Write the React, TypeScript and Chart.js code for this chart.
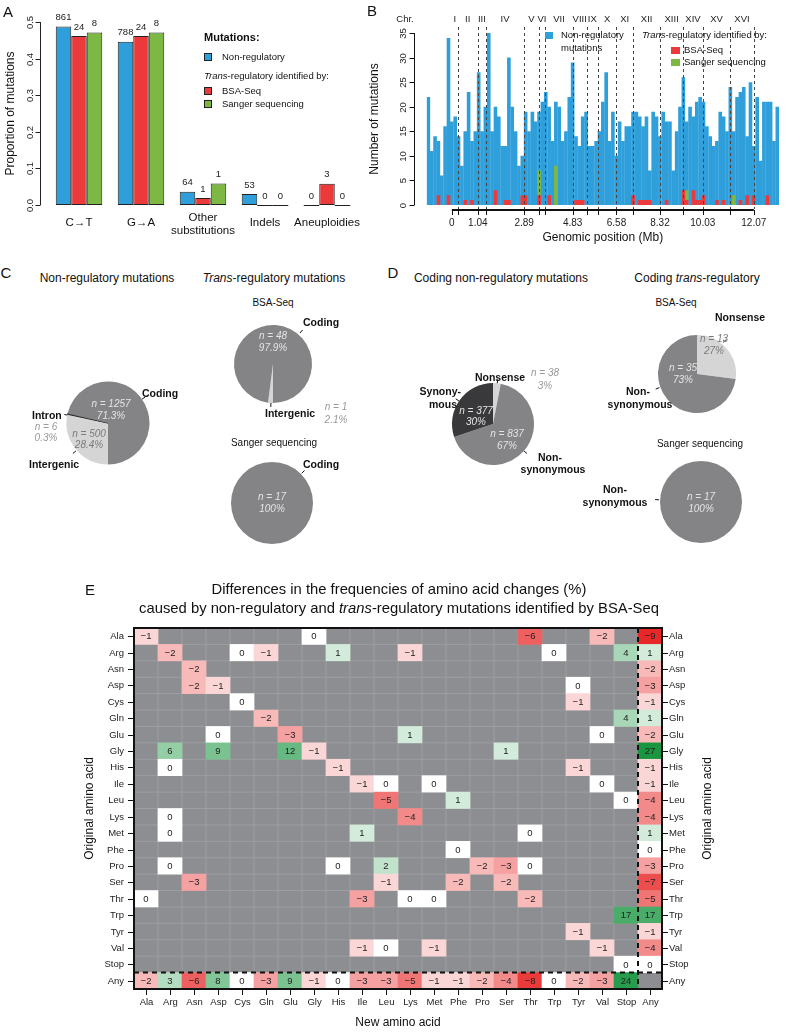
import React, { useEffect, useRef } from 'react';
import { Chart, registerables } from 'chart.js';

Chart.register(...registerables);

const FONT = '"Liberation Sans", Arial, Helvetica, sans-serif';
Chart.defaults.font.family = FONT;

const BLUE = '#2e9fda';
const RED = '#ec3a3a';
const GREEN = '#7cb843';
const PIE_MID = '#848487';
const PIE_LIGHT = '#d5d5d5';
const PIE_DARK = '#39393b';
const HEAT_BG = '#8d8e91';

// ---------------- Panel A data ----------------
const mutationTypes = ['C→T', 'G→A', 'Other substitutions', 'Indels', 'Aneuploidies'];
const nonRegProportion = [0.488, 0.446, 0.036, 0.03, 0];
const bsaProportion = [0.462, 0.462, 0.019, 0, 0.058];
const sangerProportion = [0.471, 0.471, 0.059, 0, 0];
const nonRegCounts = [861, 788, 64, 53, 0];
const bsaCounts = [24, 24, 1, 0, 3];
const sangerCounts = [8, 8, 1, 0, 0];
const proportionTicks = [0, 0.1, 0.2, 0.3, 0.4, 0.5];

// ---------------- Panel B data ----------------
const chromosomes = ['I', 'II', 'III', 'IV', 'V', 'VI', 'VII', 'VIII', 'IX', 'X', 'XI', 'XII', 'XIII', 'XIV', 'XV', 'XVI'];
const chromosomeEnds = [0.23, 1.043, 1.36, 2.892, 3.469, 3.739, 4.83, 5.393, 5.833, 6.579, 7.246, 8.324, 9.248, 10.032, 11.123, 12.071];
const positionLabels = [0, 1.04, 2.89, 4.83, 6.58, 8.32, 10.03, 12.07];
const countTicks = [0, 5, 10, 15, 20, 25, 30, 35];
const nonRegBins = [
  22, 11,
  14, 13, 6, 16, 34, 17, 18,
  14, 8, 15,
  23, 13, 15, 27, 15, 20, 35, 15, 20, 18, 12, 12, 30,
  20, 15, 8, 10, 19, 15,
  19, 17,
  19, 21, 23, 20, 13, 21, 20, 13, 15,
  22, 29, 14, 12,
  18, 19, 12, 12, 13, 15, 21, 27, 13, 19, 10,
  17, 13, 16, 16, 19, 19,
  18, 16, 18, 7, 19, 18, 14, 19, 17,
  17, 7, 15, 20, 26, 17, 20, 18,
  21, 22, 21, 16, 14, 12, 13,
  19, 18, 15, 24, 15, 22, 23, 24, 14,
  25, 12, 22, 9, 21, 21, 21, 13, 20,
];
const bsaBinCounts: [number, number][] = [
  [3, 2], [6, 2], [11, 1], [13, 1], [20, 3], [23, 1], [24, 1], [28, 2], [29, 2], [33, 2], [36, 2],
  [44, 1], [45, 1], [46, 1], [61, 2], [63, 1], [64, 1], [65, 1], [66, 1], [71, 1], [76, 3], [77, 1],
  [79, 3], [80, 1], [81, 1], [82, 2], [86, 1], [88, 1], [93, 1], [95, 2], [97, 2], [101, 2],
];
const sangerBinCounts: [number, number][] = [[33, 5], [38, 8], [77, 2], [91, 2]];

// ---------------- Panels C / D data ----------------
const regionNonReg = [500, 6, 1257]; // intergenic, intron, coding
const regionBsa = [1, 48]; // intergenic, coding
const regionSanger = [17]; // coding
const codingNonReg = [38, 837, 377]; // nonsense, non-synonymous, synonymous
const codingBsa = [13, 35]; // nonsense, non-synonymous
const codingSanger = [17]; // non-synonymous

// ---------------- Panel E data ----------------
const aminoAcids = ['Ala', 'Arg', 'Asn', 'Asp', 'Cys', 'Gln', 'Glu', 'Gly', 'His', 'Ile', 'Leu', 'Lys', 'Met', 'Phe', 'Pro', 'Ser', 'Thr', 'Trp', 'Tyr', 'Val', 'Stop', 'Any'];
const cellEntries: [string, string, number][] = [
  ['Ala', 'Ala', -1], ['Ala', 'Gly', 0], ['Ala', 'Thr', -6], ['Ala', 'Val', -2], ['Ala', 'Any', -9],
  ['Arg', 'Arg', -2], ['Arg', 'Cys', 0], ['Arg', 'Gln', -1], ['Arg', 'His', 1], ['Arg', 'Lys', -1], ['Arg', 'Trp', 0], ['Arg', 'Stop', 4], ['Arg', 'Any', 1],
  ['Asn', 'Asn', -2], ['Asn', 'Any', -2],
  ['Asp', 'Asn', -2], ['Asp', 'Asp', -1], ['Asp', 'Tyr', 0], ['Asp', 'Any', -3],
  ['Cys', 'Cys', 0], ['Cys', 'Tyr', -1], ['Cys', 'Any', -1],
  ['Gln', 'Gln', -2], ['Gln', 'Stop', 4], ['Gln', 'Any', 1],
  ['Glu', 'Asp', 0], ['Glu', 'Glu', -3], ['Glu', 'Lys', 1], ['Glu', 'Val', 0], ['Glu', 'Any', -2],
  ['Gly', 'Arg', 6], ['Gly', 'Asp', 9], ['Gly', 'Glu', 12], ['Gly', 'Gly', -1], ['Gly', 'Ser', 1], ['Gly', 'Any', 27],
  ['His', 'Arg', 0], ['His', 'His', -1], ['His', 'Tyr', -1], ['His', 'Any', -1],
  ['Ile', 'Ile', -1], ['Ile', 'Leu', 0], ['Ile', 'Met', 0], ['Ile', 'Val', 0], ['Ile', 'Any', -1],
  ['Leu', 'Leu', -5], ['Leu', 'Phe', 1], ['Leu', 'Stop', 0], ['Leu', 'Any', -4],
  ['Lys', 'Arg', 0], ['Lys', 'Lys', -4], ['Lys', 'Any', -4],
  ['Met', 'Arg', 0], ['Met', 'Ile', 1], ['Met', 'Thr', 0], ['Met', 'Any', 1],
  ['Phe', 'Phe', 0], ['Phe', 'Any', 0],
  ['Pro', 'Arg', 0], ['Pro', 'His', 0], ['Pro', 'Leu', 2], ['Pro', 'Pro', -2], ['Pro', 'Ser', -3], ['Pro', 'Thr', 0], ['Pro', 'Any', -3],
  ['Ser', 'Asn', -3], ['Ser', 'Leu', -1], ['Ser', 'Phe', -2], ['Ser', 'Ser', -2], ['Ser', 'Any', -7],
  ['Thr', 'Ala', 0], ['Thr', 'Ile', -3], ['Thr', 'Lys', 0], ['Thr', 'Met', 0], ['Thr', 'Thr', -2], ['Thr', 'Any', -5],
  ['Trp', 'Stop', 17], ['Trp', 'Any', 17],
  ['Tyr', 'Tyr', -1], ['Tyr', 'Any', -1],
  ['Val', 'Ile', -1], ['Val', 'Leu', 0], ['Val', 'Met', -1], ['Val', 'Val', -1], ['Val', 'Any', -4],
  ['Stop', 'Stop', 0], ['Stop', 'Any', 0],
  ['Any', 'Ala', -2], ['Any', 'Arg', 3], ['Any', 'Asn', -6], ['Any', 'Asp', 8], ['Any', 'Cys', 0], ['Any', 'Gln', -3],
  ['Any', 'Glu', 9], ['Any', 'Gly', -1], ['Any', 'His', 0], ['Any', 'Ile', -3], ['Any', 'Leu', -3], ['Any', 'Lys', -5],
  ['Any', 'Met', -1], ['Any', 'Phe', -1], ['Any', 'Pro', -2], ['Any', 'Ser', -4], ['Any', 'Thr', -8], ['Any', 'Trp', 0],
  ['Any', 'Tyr', -2], ['Any', 'Val', -3], ['Any', 'Stop', 24],
];

// ---------------- helpers ----------------
function cellColor(v: number) {
  if (v === 0) return '#ffffff';
  let t: number, c: number[];
  if (v < 0) { t = Math.min(1, Math.pow(-v / 9, 0.75)); c = [232, 40, 40]; }
  else { t = Math.min(1, Math.pow(v / 27, 0.5)); c = [26, 150, 65]; }
  const m = c.map((ch) => Math.round(255 - t * (255 - ch)));
  return `rgb(${m[0]},${m[1]},${m[2]})`;
}
const fmt = (v: number) => (v < 0 ? '\u2212' + Math.abs(v) : String(v));

function line(ctx: CanvasRenderingContext2D, x1: number, y1: number, x2: number, y2: number) {
  ctx.beginPath(); ctx.moveTo(x1, y1); ctx.lineTo(x2, y2); ctx.stroke();
}
function rotText(ctx: CanvasRenderingContext2D, s: string, x: number, y: number) {
  ctx.save(); ctx.translate(x, y); ctx.rotate(-Math.PI / 2); ctx.fillText(s, 0, 0); ctx.restore();
}

function ChartBox({ left, top, width, height, make }: { left: number; top: number; width: number; height: number; make: () => any }) {
  const ref = useRef<HTMLCanvasElement>(null);
  useEffect(() => {
    const chart = new Chart(ref.current as HTMLCanvasElement, make());
    return () => chart.destroy();
  }, []);
  return <canvas ref={ref} width={width} height={height} style={{ position: 'absolute', left, top, width, height }} />;
}

type TP = { x: number; y: number; s?: number; b?: boolean; it?: boolean; a?: 'l' | 'c' | 'r'; c?: string; children: React.ReactNode };
const T = ({ x, y, s = 10, b, it, a = 'c', c = '#111', children }: TP) => (
  <div style={{
    position: 'absolute', left: x, top: y,
    transform: `translate(${a === 'c' ? '-50%' : a === 'r' ? '-100%' : '0'},-50%)`,
    fontSize: s, fontWeight: b ? 'bold' : 'normal', fontStyle: it ? 'italic' : 'normal',
    color: c, whiteSpace: 'nowrap', lineHeight: 1,
  }}>{children}</div>
);
const Sq = ({ x, y, w, h, c, border }: { x: number; y: number; w: number; h: number; c: string; border?: boolean }) => (
  <div style={{ position: 'absolute', left: x, top: y, width: w, height: h, background: c, border: border ? '1px solid #222' : 'none', boxSizing: 'border-box' }} />
);

const baseOpts = (padding: any) => ({
  animation: false,
  responsive: false,
  devicePixelRatio: 1,
  layout: { padding },
  plugins: { legend: { display: false }, tooltip: { enabled: false }, title: { display: false } },
  events: [],
});

// ---------------- Panel A ----------------
function makePanelA() {
  const counts = [nonRegCounts, bsaCounts, sangerCounts];
  const plugin = {
    id: 'panelA',
    afterDatasetsDraw(chart: any) {
      const { ctx } = chart;
      const ys = chart.scales.y, xs = chart.scales.x;
      const y0 = ys.getPixelForValue(0);
      ctx.save();
      ctx.fillStyle = '#222'; ctx.strokeStyle = '#222'; ctx.lineWidth = 1;
      ctx.font = `9.5px ${FONT}`; ctx.textAlign = 'center'; ctx.textBaseline = 'middle';
      chart.data.datasets.forEach((ds: any, di: number) => {
        const meta = chart.getDatasetMeta(di);
        meta.data.forEach((el: any, i: number) => {
          const p = el.getProps(['x', 'y', 'width', 'base'], true);
          if (ds.data[i] === 0) line(ctx, p.x - p.width / 2, y0 + 0.5, p.x + p.width / 2, y0 + 0.5);
          ctx.fillText(String(counts[di][i]), p.x, Math.min(p.y, p.base) - 9);
        });
      });
      // y axis
      const ax = 40.5;
      line(ctx, ax, ys.getPixelForValue(0), ax, ys.getPixelForValue(0.5));
      proportionTicks.forEach((t) => {
        const py = Math.round(ys.getPixelForValue(t)) + 0.5;
        line(ctx, ax - 5, py, ax, py);
        rotText(ctx, t.toFixed(1), 30, py);
      });
      ctx.font = `12px ${FONT}`; ctx.fillStyle = '#111';
      rotText(ctx, 'Proportion of mutations', 11, (ys.getPixelForValue(0) + ys.getPixelForValue(0.5)) / 2);
      // category labels
      ctx.font = `11.5px ${FONT}`;
      mutationTypes.forEach((m, i) => {
        const px = xs.getPixelForValue(i);
        if (m === 'Other substitutions') { ctx.fillText('Other', px, 218); ctx.fillText('substitutions', px, 231); }
        else ctx.fillText(m, px, 223);
      });
      ctx.restore();
    },
  };
  const ds = (data: number[], color: string) => ({
    data, backgroundColor: color, borderColor: '#222', borderWidth: 1, borderSkipped: false,
    categoryPercentage: 0.75, barPercentage: 1,
  });
  return {
    type: 'bar',
    data: { labels: mutationTypes, datasets: [ds(nonRegProportion, BLUE), ds(bsaProportion, RED), ds(sangerProportion, GREEN)] },
    options: {
      ...baseOpts({ left: 48, right: 7, top: 22, bottom: 45 }),
      scales: { x: { display: false }, y: { display: false, min: 0, max: 0.5 } },
    },
    plugins: [plugin],
  };
}

// ---------------- Panel B ----------------
const B_LEFT = 360;
function makePanelB() {
  const binLabels = nonRegBins.map((_, i) => String(i));
  const bsa = nonRegBins.map(() => 0);
  bsaBinCounts.forEach(([i, c]) => { bsa[i] = c; });
  const sanger = nonRegBins.map(() => 0);
  sangerBinCounts.forEach(([i, c]) => { sanger[i] = c; });
  const plugin = {
    id: 'panelB',
    afterDatasetsDraw(chart: any) {
      const { ctx } = chart;
      const mb = chart.scales.mb, ys = chart.scales.y;
      ctx.save();
      // dashed chromosome boundaries
      ctx.strokeStyle = '#444'; ctx.lineWidth = 1; ctx.setLineDash([3, 3]);
      chromosomeEnds.forEach((e) => {
        const px = Math.round(mb.getPixelForValue(e)) + 0.5;
        line(ctx, px, 27, px, 209);
      });
      ctx.setLineDash([]);
      ctx.fillStyle = '#222'; ctx.font = `9.5px ${FONT}`; ctx.textAlign = 'center'; ctx.textBaseline = 'middle';
      let prev = 0;
      chromosomes.forEach((c, i) => {
        ctx.fillText(c, mb.getPixelForValue((prev + chromosomeEnds[i]) / 2), 19);
        prev = chromosomeEnds[i];
      });
      ctx.fillText('Chr.', 405 - B_LEFT, 19);
      // x axis
      ctx.strokeStyle = '#111'; ctx.lineWidth = 2;
      line(ctx, mb.getPixelForValue(0), 210, mb.getPixelForValue(12.071), 210);
      ctx.lineWidth = 1;
      [0, ...chromosomeEnds].forEach((e) => {
        const px = Math.round(mb.getPixelForValue(e)) + 0.5;
        line(ctx, px, 210, px, 215);
      });
      ctx.font = `10px ${FONT}`;
      positionLabels.forEach((p) => ctx.fillText(String(p), mb.getPixelForValue(p), 223));
      ctx.font = `12px ${FONT}`; ctx.fillStyle = '#111';
      ctx.fillText('Genomic position (Mb)', (mb.getPixelForValue(0) + mb.getPixelForValue(12.071)) / 2, 238);
      // y axis
      const ax = 414.5 - B_LEFT;
      ctx.strokeStyle = '#111';
      line(ctx, ax, ys.getPixelForValue(0), ax, ys.getPixelForValue(35));
      ctx.font = `9.5px ${FONT}`; ctx.fillStyle = '#222';
      countTicks.forEach((t) => {
        const py = Math.round(ys.getPixelForValue(t)) + 0.5;
        line(ctx, ax - 5, py, ax, py);
        rotText(ctx, String(t), 403 - B_LEFT, py);
      });
      ctx.font = `12px ${FONT}`; ctx.fillStyle = '#111';
      rotText(ctx, 'Number of mutations', 375 - B_LEFT, (ys.getPixelForValue(0) + ys.getPixelForValue(35)) / 2);
      ctx.restore();
    },
  };
  const bar = (data: number[], color: string, stack: string) => ({
    data, backgroundColor: color, borderWidth: 0, stack, grouped: false,
    categoryPercentage: 1, barPercentage: 1.08,
  });
  return {
    type: 'bar',
    data: {
      labels: binLabels,
      datasets: [bar(bsa, RED, 'trans'), bar(sanger, GREEN, 'trans'), bar(nonRegBins, BLUE, 'nonreg')],
    },
    options: {
      ...baseOpts({ left: 426.67 - B_LEFT, right: 12, top: 33, bottom: 45 }),
      scales: {
        x: { display: false, stacked: true },
        mb: { type: 'linear', axis: 'x', position: 'bottom', display: false, min: 0, max: 12.071 },
        y: { display: false, min: 0, max: 35, stacked: true },
      },
    },
    plugins: [plugin],
  };
}

// ---------------- Pies ----------------
type PieSpec = { cx: number; cy: number; r: number; data: number[]; colors: string[]; rotation: number; ticks: [number, number, number][]; borders?: number[] };
const PAD = 14;
function makePie(p: PieSpec) {
  const plugin = {
    id: 'pieTicks',
    afterDatasetsDraw(chart: any) {
      const { ctx } = chart;
      const arc = chart.getDatasetMeta(0).data[0];
      const { x, y, outerRadius } = arc.getProps(['x', 'y', 'outerRadius'], true);
      ctx.save(); ctx.strokeStyle = '#111'; ctx.lineWidth = 1;
      p.ticks.forEach(([a, r1, r2]) => {
        const rad = (a * Math.PI) / 180;
        line(ctx, x + Math.sin(rad) * (outerRadius + r1), y - Math.cos(rad) * (outerRadius + r1), x + Math.sin(rad) * (outerRadius + r2), y - Math.cos(rad) * (outerRadius + r2));
      });
      ctx.restore();
    },
  };
  return {
    type: 'pie',
    data: {
      labels: p.data.map((_, i) => String(i)),
      datasets: [{ data: p.data, backgroundColor: p.colors, borderWidth: p.borders || 0, borderColor: '#2a2a2a', hoverOffset: 0 }],
    },
    options: { ...baseOpts(PAD), rotation: p.rotation },
    plugins: [plugin],
  };
}
const pieSpecs: PieSpec[] = [
  { cx: 108, cy: 423, r: 42, data: regionNonReg, colors: [PIE_LIGHT, PIE_DARK, PIE_MID], rotation: 180, borders: [0, 1, 0], ticks: [[55, 0, 4], [281, 0, 3], [229, 1, 5]] },
  { cx: 273, cy: 364, r: 39, data: regionBsa, colors: [PIE_LIGHT, PIE_MID], rotation: 180, ticks: [[41, 2, 6], [183, 0, 4]] },
  { cx: 272, cy: 503, r: 41, data: regionSanger, colors: [PIE_MID], rotation: 0, ticks: [[45, 1, 5]] },
  { cx: 493, cy: 424, r: 41, data: codingNonReg, colors: [PIE_LIGHT, PIE_MID, PIE_DARK], rotation: 0, ticks: [[6, 0, 4], [131, 0, 4], [304, 0, 4]] },
  { cx: 697, cy: 374, r: 39, data: codingBsa, colors: [PIE_LIGHT, PIE_MID], rotation: 0, ticks: [[40, 2, 6], [250, 1, 5]] },
  { cx: 701, cy: 502, r: 41, data: codingSanger, colors: [PIE_MID], rotation: 0, ticks: [[273, 1, 5]] },
];

// ---------------- Panel E ----------------
const E_TOP = 570;
function makeHeatmap() {
  const n = aminoAcids.length;
  const data = cellEntries.map(([o, nw]) => {
    const r = aminoAcids.indexOf(o);
    return { x: nw, y: [r, r + 1] };
  });
  const values = cellEntries.map((e) => e[2]);
  const plugin = {
    id: 'heat',
    beforeDatasetsDraw(chart: any) {
      const { ctx, chartArea: ca } = chart;
      const xs = chart.scales.x, ys = chart.scales.y;
      ctx.save();
      ctx.fillStyle = HEAT_BG; ctx.fillRect(ca.left, ca.top, ca.width, ca.height);
      ctx.strokeStyle = '#9d9ea1'; ctx.lineWidth = 1;
      for (let i = 1; i < n; i++) {
        const px = (xs.getPixelForValue(i - 1) + xs.getPixelForValue(i)) / 2;
        line(ctx, px, ca.top, px, ca.bottom);
        const py = ys.getPixelForValue(i);
        line(ctx, ca.left, py, ca.right, py);
      }
      ctx.restore();
    },
    afterDatasetsDraw(chart: any) {
      const { ctx, chartArea: ca } = chart;
      const xs = chart.scales.x, ys = chart.scales.y;
      ctx.save();
      ctx.textAlign = 'center'; ctx.textBaseline = 'middle';
      ctx.font = `9.5px ${FONT}`; ctx.fillStyle = '#222';
      chart.getDatasetMeta(0).data.forEach((el: any, i: number) => {
        const p = el.getProps(['x', 'y', 'base'], true);
        ctx.fillText(fmt(values[i]), p.x, (p.y + p.base) / 2 + 0.5);
      });
      // dashed separators
      ctx.strokeStyle = '#111'; ctx.lineWidth = 2; ctx.setLineDash([5, 4]);
      const vx = (xs.getPixelForValue(n - 2) + xs.getPixelForValue(n - 1)) / 2;
      line(ctx, vx, ca.top, vx, ca.bottom);
      const hy = ys.getPixelForValue(n - 1);
      line(ctx, ca.left, hy, ca.right, hy);
      ctx.setLineDash([]);
      ctx.strokeRect(ca.left, ca.top, ca.width, ca.height);
      // ticks & labels
      ctx.lineWidth = 1; ctx.fillStyle = '#222';
      aminoAcids.forEach((a, i) => {
        const py = Math.round(ys.getPixelForValue(i + 0.5)) + 0.5;
        line(ctx, ca.left - 6, py, ca.left, py);
        line(ctx, ca.right, py, ca.right + 6, py);
        ctx.textAlign = 'right'; ctx.fillText(a, ca.left - 10, py);
        ctx.textAlign = 'left'; ctx.fillText(a, ca.right + 7, py);
        const px = Math.round(xs.getPixelForValue(i)) + 0.5;
        line(ctx, px, ca.bottom, px, ca.bottom + 6);
        ctx.textAlign = 'center'; ctx.fillText(a, px, ca.bottom + 13);
      });
      ctx.font = `12px ${FONT}`; ctx.fillStyle = '#111';
      const cy = (ca.top + ca.bottom) / 2;
      rotText(ctx, 'Original amino acid', 90, cy);
      rotText(ctx, 'Original amino acid', 708, cy);
      ctx.fillText('New amino acid', (ca.left + ca.right) / 2, 1023 - E_TOP);
      ctx.restore();
    },
  };
  return {
    type: 'bar',
    data: {
      labels: aminoAcids,
      datasets: [{
        data, backgroundColor: values.map(cellColor), borderWidth: 0, grouped: false,
        categoryPercentage: 1, barPercentage: 1,
      }],
    },
    options: {
      ...baseOpts({ left: 134, right: 129, top: 58, bottom: 43 }),
      scales: { x: { display: false }, y: { display: false, min: 0, max: n, reverse: true } },
    },
    plugins: [plugin],
  };
}

const LT = '#e4e4e4';
const DK = '#7a7a7a';
const OUT = '#999';

export default function App() {
  return (
    <div style={{ position: 'absolute', left: 0, top: 0, width: 791, height: 1032, background: '#fff', fontFamily: FONT, overflow: 'hidden', color: '#111' }}>
      {/* Panel A */}
      <ChartBox left={0} top={0} width={365} height={250} make={makePanelA} />
      <T x={8} y={11} s={15}>A</T>
      <T x={204} y={37} s={11} b a="l">Mutations:</T>
      <Sq x={204} y={53} w={8} h={8} c={BLUE} border />
      <T x={222} y={57} s={9.5} a="l">Non-regulatory</T>
      <T x={204} y={76} s={9.5} a="l"><i>Trans</i>-regulatory identified by:</T>
      <Sq x={204} y={87} w={8} h={8} c={RED} border />
      <T x={222} y={91} s={9.5} a="l">BSA-Seq</T>
      <Sq x={204} y={100} w={8} h={8} c={GREEN} border />
      <T x={222} y={104} s={9.5} a="l">Sanger sequencing</T>

      {/* Panel B */}
      <ChartBox left={B_LEFT} top={0} width={791 - B_LEFT} height={250} make={makePanelB} />
      <T x={372} y={10} s={15}>B</T>
      <Sq x={545} y={32} w={8} h={7} c={BLUE} />
      <T x={561} y={35} s={9.5} a="l">Non-regulatory</T>
      <T x={561} y={48} s={9.5} a="l">mutations</T>
      <T x={642} y={35} s={9.5} a="l"><i>Trans</i>-regulatory identified by:</T>
      <Sq x={671} y={47} w={9} h={7} c={RED} />
      <T x={684} y={50} s={9.5} a="l">BSA-Seq</T>
      <Sq x={671} y={59} w={9} h={7} c={GREEN} />
      <T x={684} y={62} s={9.5} a="l">Sanger sequencing</T>

      {/* Pies */}
      {pieSpecs.map((p, i) => (
        <ChartBox key={i} left={p.cx - p.r - PAD} top={p.cy - p.r - PAD} width={2 * (p.r + PAD)} height={2 * (p.r + PAD)} make={() => makePie(p)} />
      ))}

      {/* Panel C */}
      <T x={6} y={272} s={15}>C</T>
      <T x={107} y={278} s={12}>Non-regulatory mutations</T>
      <T x={274} y={278} s={12}><i>Trans</i>-regulatory mutations</T>
      <T x={273} y={303} s={10}>BSA-Seq</T>
      <T x={142} y={393} s={10.5} b a="l">Coding</T>
      <T x={111} y={404} s={10} it c={LT}>n = 1257</T>
      <T x={111} y={416} s={10} it c={LT}>71.3%</T>
      <T x={32} y={415} s={10.5} b a="l">Intron</T>
      <T x={46} y={427} s={10} it c={OUT}>n = 6</T>
      <T x={46} y={438} s={10} it c={OUT}>0.3%</T>
      <T x={89} y={434} s={10} it c={DK}>n = 500</T>
      <T x={89} y={445} s={10} it c={DK}>28.4%</T>
      <T x={29} y={464} s={10.5} b a="l">Intergenic</T>
      <T x={303} y={322} s={10.5} b a="l">Coding</T>
      <T x={273} y={336} s={10} it c={LT}>n = 48</T>
      <T x={273} y={348} s={10} it c={LT}>97.9%</T>
      <T x={265} y={413} s={10.5} b a="l">Intergenic</T>
      <T x={336} y={407} s={10} it c={OUT}>n = 1</T>
      <T x={336} y={420} s={10} it c={OUT}>2.1%</T>
      <T x={274} y={443} s={10}>Sanger sequencing</T>
      <T x={303} y={464} s={10.5} b a="l">Coding</T>
      <T x={272} y={497} s={10} it c={LT}>n = 17</T>
      <T x={272} y={509} s={10} it c={LT}>100%</T>

      {/* Panel D */}
      <T x={393} y={272} s={15}>D</T>
      <T x={501} y={278} s={12}>Coding non-regulatory mutations</T>
      <T x={697} y={278} s={12}>Coding <i>trans</i>-regulatory</T>
      <T x={676} y={303} s={10}>BSA-Seq</T>
      <T x={500} y={377} s={10.5} b>Nonsense</T>
      <T x={545} y={373} s={10} it c={OUT}>n = 38</T>
      <T x={545} y={386} s={10} it c={OUT}>3%</T>
      <T x={461} y={391} s={10.5} b a="r">Synony-</T>
      <T x={457} y={404} s={10.5} b a="r">mous</T>
      <T x={476} y={411} s={10} it c={LT}>n = 377</T>
      <T x={476} y={422} s={10} it c={LT}>30%</T>
      <T x={507} y={434} s={10} it c={LT}>n = 837</T>
      <T x={507} y={446} s={10} it c={LT}>67%</T>
      <T x={550} y={457} s={10.5} b>Non-</T>
      <T x={553} y={469} s={10.5} b>synonymous</T>
      <T x={715} y={317} s={10.5} b a="l">Nonsense</T>
      <T x={714} y={339} s={10} it c={DK}>n = 13</T>
      <T x={714} y={351} s={10} it c={DK}>27%</T>
      <T x={683} y={368} s={10} it c={LT}>n = 35</T>
      <T x={683} y={380} s={10} it c={LT}>73%</T>
      <T x={638} y={391} s={10.5} b>Non-</T>
      <T x={640} y={404} s={10.5} b>synonymous</T>
      <T x={700} y={444} s={10}>Sanger sequencing</T>
      <T x={615} y={489} s={10.5} b>Non-</T>
      <T x={615} y={502} s={10.5} b>synonymous</T>
      <T x={701} y={497} s={10} it c={LT}>n = 17</T>
      <T x={701} y={509} s={10} it c={LT}>100%</T>

      {/* Panel E */}
      <ChartBox left={0} top={E_TOP} width={791} height={462} make={makeHeatmap} />
      <T x={90} y={589} s={15}>E</T>
      <T x={399} y={589} s={14.8}>Differences in the frequencies of amino acid changes (%)</T>
      <T x={399} y={608} s={14.8}>caused by non-regulatory and <i>trans</i>-regulatory mutations identified by BSA-Seq</T>
    </div>
  );
}
